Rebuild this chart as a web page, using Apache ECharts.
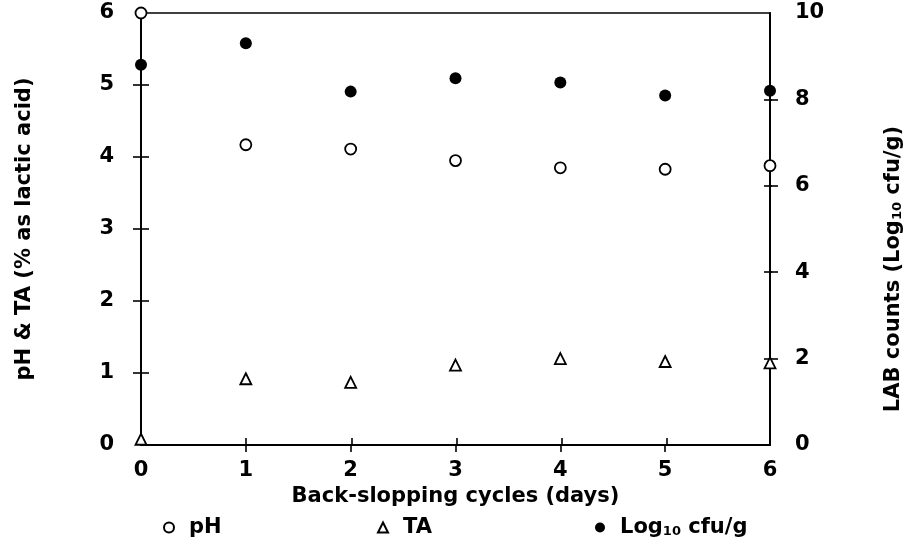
<!DOCTYPE html>
<html>
<head>
<meta charset="utf-8">
<script src="https://cdn.jsdelivr.net/npm/echarts@6/dist/echarts.min.js"></script>
<style>
  html, body { margin: 0; padding: 0; background: #fff; }
  #chart { width: 912px; height: 556px; }
</style>
</head>
<body>
<div id="chart"></div>
<script>
// Back-slopping cycles (days)
const days = [0, 1, 2, 3, 4, 5, 6];
// pH of the fermenting dough
const phValues = [6.0, 4.17, 4.11, 3.95, 3.85, 3.83, 3.88];
// Titratable acidity (% as lactic acid)
const taValues = [0.08, 0.92, 0.87, 1.11, 1.2, 1.16, 1.14];
// LAB counts (Log10 cfu/g)
const labValues = [8.8, 9.3, 8.18, 8.49, 8.39, 8.09, 8.2];

const leftTicks = [0, 1, 2, 3, 4, 5, 6];
const rightTicks = [0, 2, 4, 6, 8, 10];

const FONT = 'DejaVu Sans';
const FS = 21;
const FW = 'bold';
const INK = '#000';

const pair = (xs, ys) => xs.map((x, i) => [x, ys[i]]);
// tick marks only between the corners (the frame already sits on the end values)
const inner = (arr) => arr.slice(1, -1);

const txt = (extra) => Object.assign({ fontFamily: FONT, fontSize: FS, fontWeight: FW, color: INK }, extra || {});
const subRich = {
  s: { fontFamily: FONT, fontSize: 13, fontWeight: FW, color: INK, verticalAlign: 'bottom', padding: [6, 0, 0, 0] }
};

const tick = (len, inside, values) => ({
  show: true, inside: inside, length: len, customValues: values,
  lineStyle: { color: INK, width: 1.6 }
});

const GRID = { left: 141, right: 140, top: 13, bottom: 111 };

const chart = echarts.init(document.getElementById('chart'), null, { renderer: 'canvas' });

chart.setOption({
  backgroundColor: '#fff',
  animation: false,
  textStyle: { fontFamily: FONT, color: INK },
  grid: [
    Object.assign({ show: true, borderColor: INK, borderWidth: 1.5, backgroundColor: 'transparent' }, GRID),
    // twin grid carrying the inward half of each crossing tick
    Object.assign({ show: false }, GRID)
  ],
  xAxis: [
    {
      gridIndex: 0, type: 'value', min: 0, max: 6, interval: 1,
      name: 'Back-slopping cycles (days)', nameLocation: 'middle', nameGap: 38,
      nameTextStyle: txt(),
      axisLine: { show: true, lineStyle: { color: INK, width: 2 } },
      axisTick: tick(7, false, inner(days)),
      axisLabel: txt({ margin: 15 }),
      splitLine: { show: false }
    },
    {
      gridIndex: 1, type: 'value', min: 0, max: 6, interval: 1, position: 'bottom',
      axisLine: { show: false }, axisTick: tick(7, true, inner(days)),
      axisLabel: { show: false }, splitLine: { show: false }
    }
  ],
  yAxis: [
    {
      gridIndex: 0, type: 'value', min: leftTicks[0], max: leftTicks[leftTicks.length - 1], interval: 1,
      position: 'left',
      name: 'pH & TA (% as lactic acid)', nameLocation: 'middle', nameRotate: 90, nameGap: 106,
      nameTextStyle: txt(),
      axisLine: { show: true, lineStyle: { color: INK, width: 2 } },
      axisTick: tick(8, false, inner(leftTicks)),
      axisLabel: txt({ margin: 27 }),
      splitLine: { show: false }
    },
    {
      gridIndex: 0, type: 'value', min: rightTicks[0], max: rightTicks[rightTicks.length - 1], interval: 2,
      position: 'right',
      name: 'LAB counts (Log{s|10} cfu/g)', nameLocation: 'middle', nameRotate: 90, nameGap: 113,
      nameTextStyle: txt({ padding: [0, 80, 0, 0], rich: subRich }),
      axisLine: { show: true, lineStyle: { color: INK, width: 2 } },
      axisTick: tick(8, false, inner(rightTicks)),
      axisLabel: txt({ margin: 25 }),
      splitLine: { show: false }
    },
    {
      gridIndex: 1, type: 'value', min: 0, max: 6, interval: 1, position: 'left',
      axisLine: { show: false }, axisTick: tick(8, true, inner(leftTicks)),
      axisLabel: { show: false }, splitLine: { show: false }
    },
    {
      gridIndex: 1, type: 'value', min: 0, max: 10, interval: 2, position: 'right',
      axisLine: { show: false }, axisTick: tick(8, true, inner(rightTicks)),
      axisLabel: { show: false }, splitLine: { show: false }
    }
  ],
  legend: [
    {
      data: ['pH'], left: 158, top: 512, itemWidth: 10, itemHeight: 10,
      textStyle: txt({ padding: [0, 0, 0, 10] })
    },
    {
      data: ['TA'], left: 372, top: 512, itemWidth: 10, itemHeight: 10,
      textStyle: txt({ padding: [0, 0, 0, 10] })
    },
    {
      data: ['Log10 cfu/g'], left: 590, top: 512, itemWidth: 10, itemHeight: 10,
      formatter: () => 'Log{s|10} cfu/g',
      textStyle: txt({ padding: [0, 0, 0, 10], rich: subRich })
    }
  ],
  series: [
    {
      name: 'pH', type: 'scatter', xAxisIndex: 0, yAxisIndex: 0, clip: false,
      symbol: 'circle', symbolSize: 11,
      itemStyle: { color: '#fff', borderColor: INK, borderWidth: 1.8, opacity: 1 },
      data: pair(days, phValues)
    },
    {
      name: 'TA', type: 'scatter', xAxisIndex: 0, yAxisIndex: 0, clip: false,
      symbol: 'triangle', symbolSize: 11,
      itemStyle: { color: '#fff', borderColor: INK, borderWidth: 1.8, opacity: 1 },
      data: pair(days, taValues)
    },
    {
      name: 'Log10 cfu/g', type: 'scatter', xAxisIndex: 0, yAxisIndex: 1, clip: false,
      symbol: 'circle', symbolSize: 12,
      itemStyle: { color: INK, opacity: 1 },
      data: pair(days, labValues)
    }
  ]
});
</script>
</body>
</html>
